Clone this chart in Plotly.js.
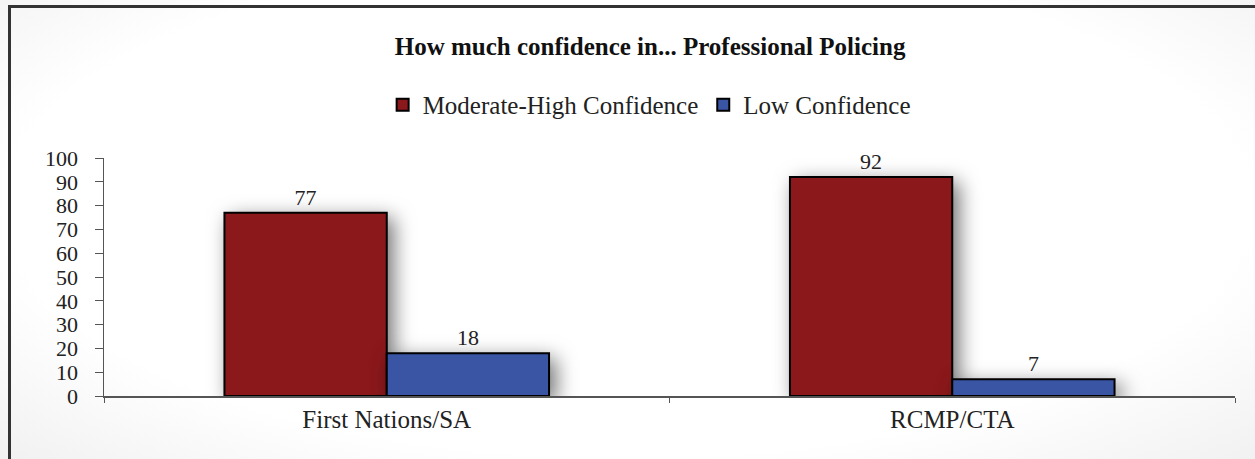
<!DOCTYPE html>
<html>
<head>
<meta charset="utf-8">
<script src="https://cdn.plot.ly/plotly-3.0.1.min.js"></script>
<style>
  html, body { margin: 0; padding: 0; }
  body {
    width: 1255px; height: 459px; overflow: hidden; position: relative;
    background: radial-gradient(ellipse at 50% 45%, #ffffff 70%, #f1f1f1 100%);
  }
  #chart { position: absolute; left: 0; top: 0; width: 1255px; height: 459px; }
  #frame {
    position: absolute; left: 8px; top: 5px; width: 1300px; height: 500px;
    border-left: 3px solid #333; border-top: 3px solid #333; pointer-events: none;
  }
  .bars .point path { filter: drop-shadow(6px 6px 10px rgba(0,0,0,0.55)); }
</style>
</head>
<body>
<div id="chart"></div>
<div id="frame"></div>
<script>
const categories = ["First Nations/SA", "RCMP/CTA"];
const highConf = [77, 92];
const lowConf = [18, 7];
const seriesNames = ["Moderate-High Confidence", "Low Confidence"];

const serif = "'Liberation Serif', 'Times New Roman', serif";

const traces = [
    {
        type: "bar",
        name: seriesNames[0],
        x: categories,
        y: highConf,
        text: highConf.map(String),
        textposition: "outside",
        cliponaxis: false,
        textfont: { family: serif, size: 22, color: "#222" },
        marker: { color: "#8B181B", line: { color: "#000", width: 2 } }
    },
    {
        type: "bar",
        name: seriesNames[1],
        x: categories,
        y: lowConf,
        text: lowConf.map(String),
        textposition: "outside",
        cliponaxis: false,
        textfont: { family: serif, size: 22, color: "#222" },
        marker: { color: "#3A55A4", line: { color: "#000", width: 2 } }
    }
];

const layout = {
    width: 1255,
    height: 459,
    margin: { l: 104, r: 20, t: 158, b: 63 },
    paper_bgcolor: "rgba(0,0,0,0)",
    plot_bgcolor: "rgba(0,0,0,0)",
    font: { family: serif, color: "#222" },
    barmode: "group",
    bargap: 0.426,
    bargroupgap: 0,
    showlegend: true,
    title: {
        text: "<b>How much confidence in... Professional Policing</b>",
        font: { family: serif, size: 25, color: "#111" },
        x: 0.518, xanchor: "center",
        y: 0.9, yanchor: "middle",
        yref: "container"
    },
    legend: {
        orientation: "h",
        x: 0.482, xanchor: "center",
        y: 1.223, yanchor: "middle",
        font: { family: serif, size: 25, color: "#222" },
        itemwidth: 30,
        traceorder: "normal"
    },
    xaxis: {
        type: "category",
        range: [-0.5, 1.5],
        showline: true,
        linecolor: "#555",
        linewidth: 1.5,
        ticks: "outside",
        tickson: "boundaries",
        ticklen: 5,
        tickcolor: "#555",
        tickfont: { family: serif, size: 25, color: "#222" },
        showgrid: false,
        zeroline: false
    },
    yaxis: {
        range: [0, 100],
        dtick: 10,
        tick0: 0,
        showline: true,
        linecolor: "#555",
        linewidth: 1.5,
        ticks: "outside",
        ticklen: 8,
        tickcolor: "#555",
        ticklabelstandoff: 12,
        tickfont: { family: serif, size: 22, color: "#222" },
        showgrid: false,
        zeroline: false
    }
};

Plotly.newPlot("chart", traces, layout, { displayModeBar: false, staticPlot: true });
</script>
</body>
</html>
